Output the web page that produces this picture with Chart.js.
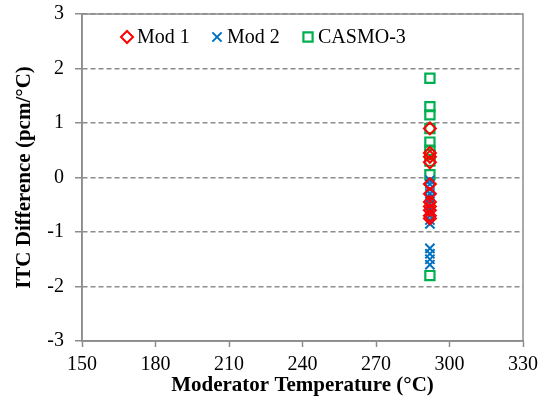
<!DOCTYPE html>
<html>
<head>
<meta charset="utf-8">
<script src="https://cdn.jsdelivr.net/npm/chart.js@4.4.0/dist/chart.umd.min.js"></script>
<style>
html,body{margin:0;padding:0;background:#fff;}
#wrap{width:551px;height:405px;}
</style>
</head>
<body>
<div id="wrap"><canvas id="c" width="551" height="405"></canvas></div>
<script>
const seriesNames = ["Mod 1", "Mod 2", "CASMO-3"];
const temperature = 292;
const mod1Values = [0.9, 0.45, 0.38, 0.28, -0.12, -0.3, -0.45, -0.53, -0.6, -0.7, -0.75];
const mod2Values = [-0.05, -0.12, -0.22, -0.3, -0.38, -0.48, -0.55, -0.62, -0.7, -0.78, -0.85, -1.3, -1.4, -1.5, -1.6];
const casmoValues = [1.82, 1.3, 1.15, 0.9, 0.65, 0.5, 0.42, 0.3, 0.05, -1.8];
const xTicks = [150, 180, 210, 240, 270, 300, 330];
const yTicks = [-3, -2, -1, 0, 1, 2, 3];

const toPoints = vals => vals.map(v => ({x: temperature, y: v}));
const FONT = "'Liberation Serif', 'Times New Roman', serif";

const framePlugin = {
  id: 'frame',
  afterDraw(chart) {
    const {ctx, chartArea: a} = chart;
    ctx.save();
    ctx.strokeStyle = '#8c8c8c';
    ctx.lineWidth = 1.5;
    ctx.setLineDash([]);
    ctx.strokeRect(a.left, a.top, a.right - a.left, a.bottom - a.top);
    ctx.restore();
  }
};

const legendPlugin = {
  id: 'innerLegend',
  afterDatasetsDraw(chart) {
    const {ctx} = chart;
    const items = [
      {x: 127, tx: 137},
      {x: 217, tx: 227},
      {x: 308, tx: 318}
    ];
    const y = 37;
    ctx.save();
    ctx.font = '20px ' + FONT;
    ctx.textBaseline = 'middle';
    chart.data.datasets.forEach((ds, i) => {
      const it = items[i];
      ctx.strokeStyle = ds.borderColor;
      ctx.fillStyle = 'rgba(0,0,0,0)';
      ctx.lineWidth = ds.borderWidth;
      Chart.helpers.drawPoint(ctx, {pointStyle: ds.pointStyle, radius: ds.pointRadius, borderWidth: ds.borderWidth}, it.x, y);
      ctx.fillStyle = '#000';
      ctx.fillText(ds.label, it.tx, y + 1);
    });
    ctx.restore();
  }
};

new Chart(document.getElementById('c'), {
  type: 'scatter',
  data: {
    datasets: [
      {label: seriesNames[0], data: toPoints(mod1Values), pointStyle: 'rectRot', pointRadius: 6, borderColor: '#ff0000', backgroundColor: 'rgba(0,0,0,0)', borderWidth: 2},
      {label: seriesNames[1], data: toPoints(mod2Values), pointStyle: 'crossRot', pointRadius: 6.5, borderColor: '#0070c0', backgroundColor: 'rgba(0,0,0,0)', borderWidth: 2},
      {label: seriesNames[2], data: toPoints(casmoValues), pointStyle: 'rect', pointRadius: 6.5, borderColor: '#00b050', backgroundColor: 'rgba(0,0,0,0)', borderWidth: 2.2}
    ]
  },
  options: {
    responsive: false,
    animation: false,
    events: [],
    layout: {padding: {left: 0, right: 28, top: 14, bottom: 0}},
    plugins: {legend: {display: false}, tooltip: {enabled: false}},
    scales: {
      x: {
        type: 'linear', min: 150, max: 330,
        afterBuildTicks: s => { s.ticks = xTicks.map(v => ({value: v})); },
        afterFit: s => { s.height = 64; s.paddingLeft = 0; s.paddingRight = 0; },
        grid: {drawOnChartArea: false, drawTicks: true, tickLength: 6, tickColor: '#8c8c8c', tickWidth: 1.5},
        border: {display: true, color: '#8c8c8c', width: 1.5},
        ticks: {color: '#000', font: {family: FONT, size: 20}, padding: 6, maxRotation: 0},
        title: {display: true, text: 'Moderator Temperature (°C)', color: '#000', font: {family: FONT, size: 21, weight: 'bold'}, padding: {top: 0, bottom: 7}}
      },
      y: {
        type: 'linear', min: -3, max: 3,
        afterBuildTicks: s => { s.ticks = yTicks.map(v => ({value: v})); },
        afterFit: s => { s.width = 82; s.paddingTop = 0; s.paddingBottom = 0; },
        grid: {color: '#8c8c8c', lineWidth: 1.5, drawTicks: true, tickLength: 7, tickColor: '#8c8c8c', tickWidth: 1.5, tickBorderDash: []},
        border: {display: true, color: '#8c8c8c', width: 1.5, dash: [5, 3]},
        ticks: {color: '#000', font: {family: FONT, size: 20}, padding: 11},
        title: {display: true, text: 'ITC Difference (pcm/°C)', color: '#000', font: {family: FONT, size: 21, weight: 'bold'}, padding: {top: 12, bottom: 0}}
      }
    }
  },
  plugins: [framePlugin, legendPlugin]
});
</script>
</body>
</html>
